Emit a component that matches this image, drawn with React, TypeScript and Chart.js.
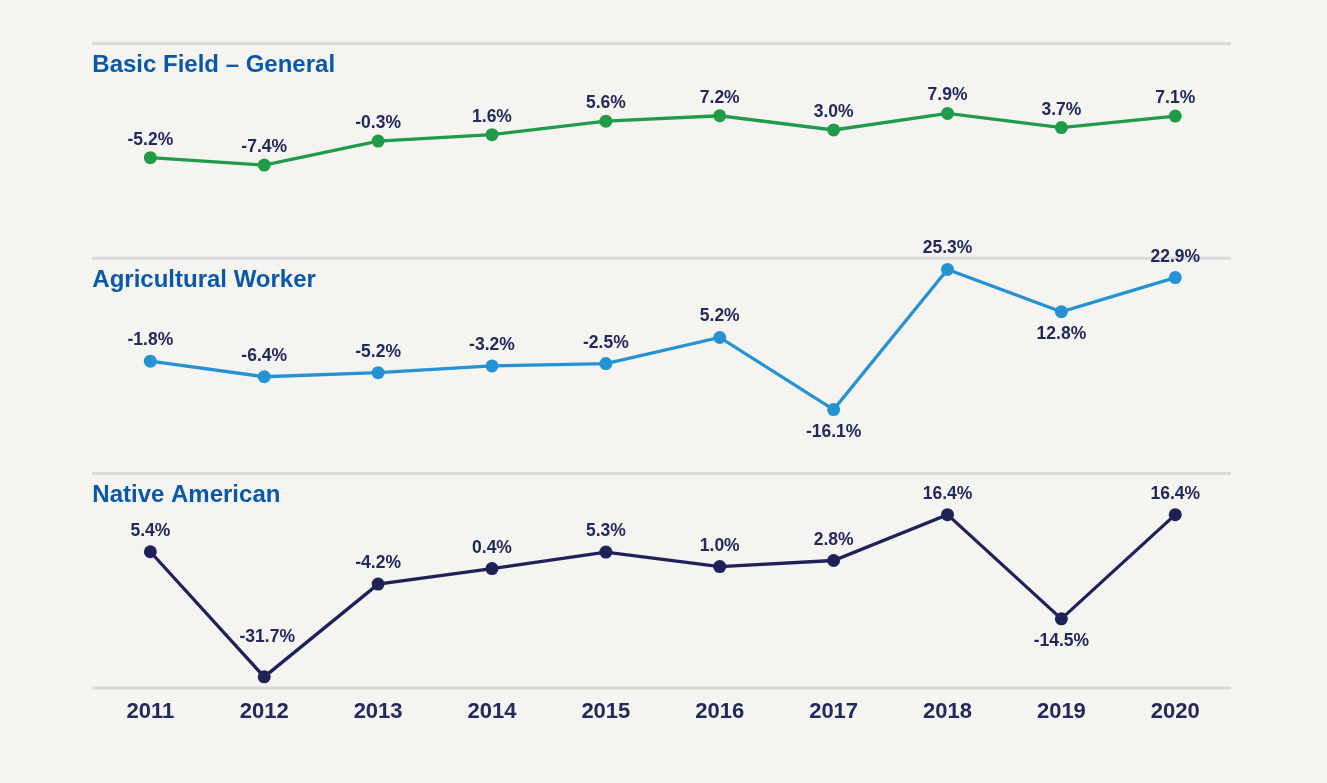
import React, { useEffect, useRef } from "react";
import { Chart, registerables } from "chart.js";

Chart.register(...registerables);

// ---- data ----
const years = ["2011", "2012", "2013", "2014", "2015", "2016", "2017", "2018", "2019", "2020"];
const basicField = [-5.2, -7.4, -0.3, 1.6, 5.6, 7.2, 3.0, 7.9, 3.7, 7.1];
const agriculturalWorker = [-1.8, -6.4, -5.2, -3.2, -2.5, 5.2, -16.1, 25.3, 12.8, 22.9];
const nativeAmerican = [5.4, -31.7, -4.2, 0.4, 5.3, 1.0, 2.8, 16.4, -14.5, 16.4];
const panelTitles = ["Basic Field \u2013 General", "Agricultural Worker", "Native American"];
const panelSeries = [basicField, agriculturalWorker, nativeAmerican];

// ---- styling ----
const lineColors = ["#1f9b4a", "#2592d4", "#1f2259"];
const labelBelowIdx = [[], [6, 8], [8]];
const labelAboveGap = [13, 16, 16];
const labelFarAboveIdx = [[], [], [1]];
const gridLinesY = [43.5, 258.3, 473.5, 688];
const Y_MIN = -35;
const Y_MAX = 28.6;
const W = 1327;
const H = 783;
const BG = "#f5f4f0";
const NAVY = "#222a5c";
const TITLE_BLUE = "#0a58a8";
const GRID = "#d9d9db";
const FONT = '"Liberation Sans", Arial, Helvetica, sans-serif';
const X_AXIS_H = 40;

const panelPlugin = {
  id: "panelDecor",
  beforeDatasetsDraw(chart: any, _args: any, opts: any) {
    const { ctx, chartArea } = chart;
    ctx.save();
    ctx.strokeStyle = GRID;
    ctx.lineWidth = 3;
    ctx.beginPath();
    ctx.moveTo(chartArea.left - 1.1, chartArea.top);
    ctx.lineTo(chartArea.right - 1.2, chartArea.top);
    if (opts.bottomLine) {
      ctx.moveTo(chartArea.left - 1.1, chartArea.bottom);
      ctx.lineTo(chartArea.right - 1.2, chartArea.bottom);
    }
    ctx.stroke();
    ctx.fillStyle = TITLE_BLUE;
    ctx.font = `bold 24px ${FONT}`;
    ctx.textAlign = "left";
    ctx.textBaseline = "alphabetic";
    ctx.fillText(opts.title, chartArea.left - 1.1, chartArea.top + 28.5);
    ctx.restore();
  },
  afterDatasetsDraw(chart: any, _args: any, opts: any) {
    const { ctx } = chart;
    const meta = chart.getDatasetMeta(0);
    const values = chart.data.datasets[0].data as number[];
    ctx.save();
    ctx.fillStyle = NAVY;
    ctx.font = `bold 17.5px ${FONT}`;
    ctx.textAlign = "center";
    ctx.textBaseline = "alphabetic";
    meta.data.forEach((pt: any, i: number) => {
      const below = (opts.below as number[]).includes(i);
      const far = (opts.farAbove as number[]).includes(i);
      let y = pt.y - opts.aboveGap;
      let x = pt.x;
      if (below) y = pt.y + 27.6;
      if (far) {
        y = pt.y - 35;
        x = pt.x + 3;
      }
      ctx.fillText(values[i].toFixed(1) + "%", x, y);
    });
    ctx.restore();
  },
};

export default function App() {
  const refs = [useRef<HTMLCanvasElement>(null), useRef<HTMLCanvasElement>(null), useRef<HTMLCanvasElement>(null)];

  useEffect(() => {
    document.body.style.margin = "0";
    Chart.defaults.font.family = FONT;
    const charts: Chart[] = [];
    panelSeries.forEach((series, i) => {
      const canvas = refs[i].current;
      if (!canvas) return;
      const isLast = i === panelSeries.length - 1;
      const padTop = gridLinesY[i];
      const padBottom = isLast ? H - gridLinesY[i + 1] - X_AXIS_H : H - gridLinesY[i + 1];
      const xScale: any = {
        type: "category",
        offset: true,
        display: isLast,
        grid: { display: false, drawTicks: false },
        border: { display: false },
        ticks: {
          color: NAVY,
          font: { size: 22, weight: "bold", family: FONT },
          padding: 11,
          maxRotation: 0,
          autoSkip: false,
        },
      };
      if (isLast) {
        xScale.afterFit = (scale: any) => {
          scale.height = X_AXIS_H;
        };
      }
      const chart = new Chart(canvas, {
        type: "line",
        data: {
          labels: years,
          datasets: [
            {
              data: series,
              borderColor: lineColors[i],
              backgroundColor: lineColors[i],
              borderWidth: 3.3,
              pointRadius: 6.5,
              pointHoverRadius: 6.5,
              pointBorderWidth: 0,
              pointBackgroundColor: lineColors[i],
              tension: 0,
              clip: false as any,
            },
          ],
        },
        options: {
          animation: false,
          responsive: false,
          devicePixelRatio: 1,
          events: [],
          layout: { padding: { top: padTop, bottom: padBottom, left: 93.4, right: W - 1232.2 } },
          plugins: {
            legend: { display: false },
            tooltip: { enabled: false },
            title: { display: false },
            panelDecor: {
              title: panelTitles[i],
              below: labelBelowIdx[i],
              farAbove: labelFarAboveIdx[i],
              aboveGap: labelAboveGap[i],
              bottomLine: isLast,
            },
          } as any,
          scales: {
            x: xScale,
            y: {
              type: "linear",
              display: false,
              min: Y_MIN,
              max: Y_MAX,
            },
          },
        },
        plugins: [panelPlugin as any],
      });
      charts.push(chart);
    });
    return () => charts.forEach((c) => c.destroy());
  }, []);

  return (
    <div style={{ position: "fixed", left: 0, top: 0, width: W, height: H, background: BG, overflow: "hidden" }}>
      {refs.map((r, i) => (
        <canvas
          key={i}
          ref={r}
          width={W}
          height={H}
          style={{ position: "absolute", left: 0, top: 0, width: W, height: H }}
        />
      ))}
    </div>
  );
}
